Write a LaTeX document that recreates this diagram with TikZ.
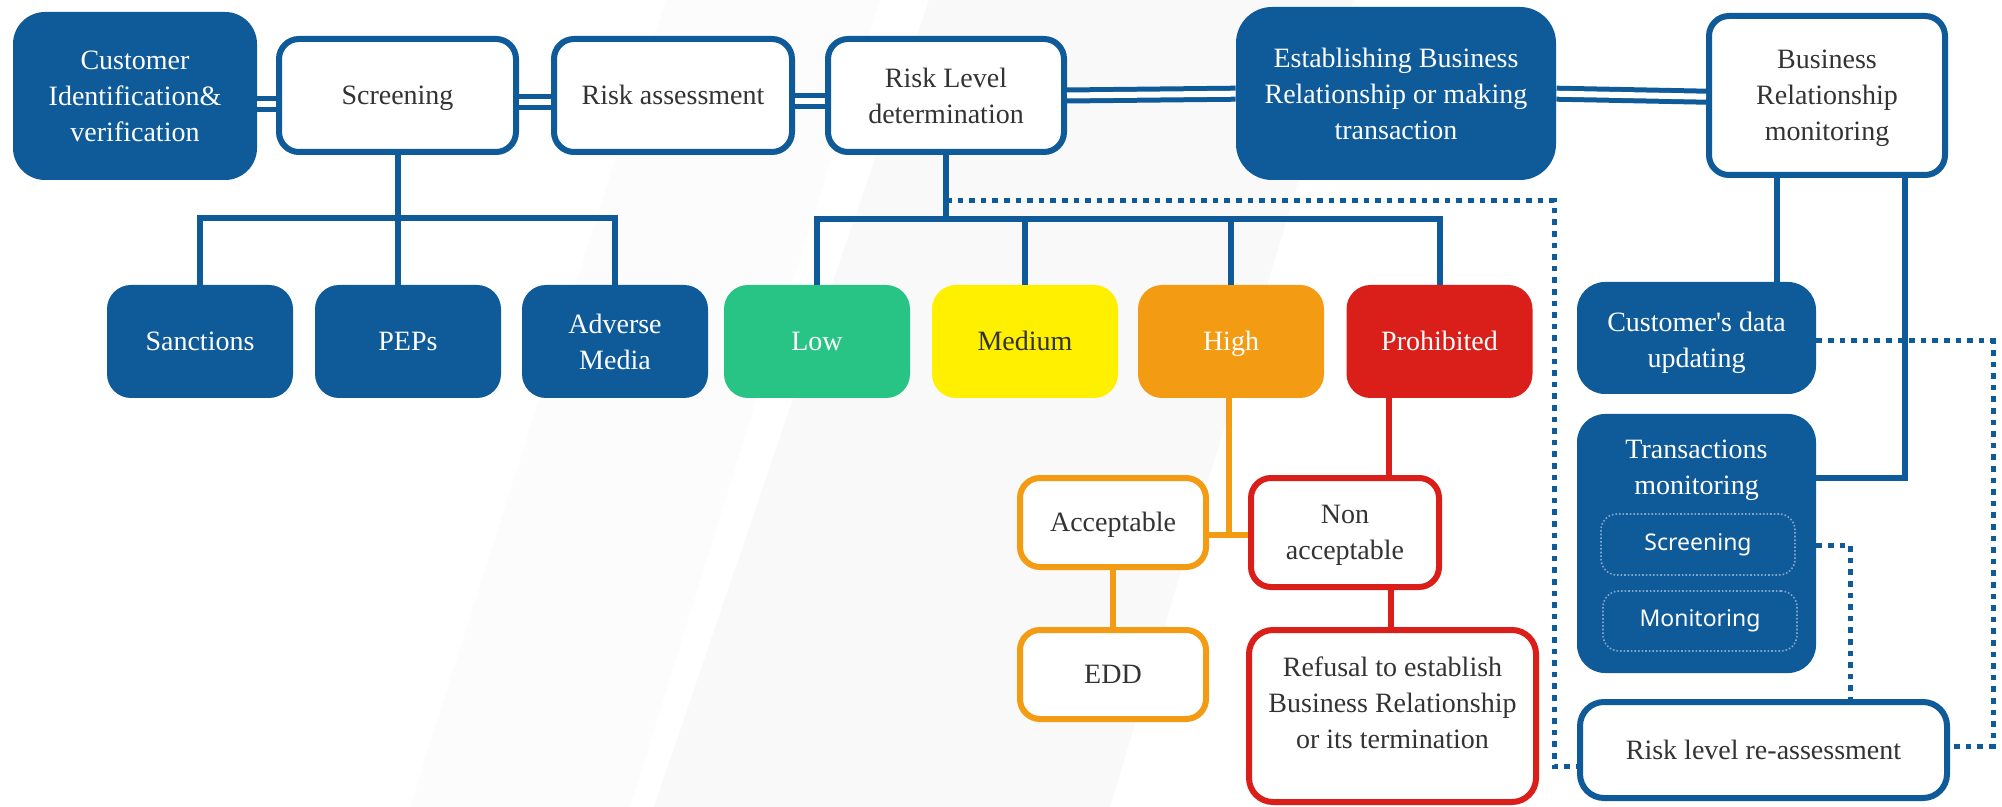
\documentclass[tikz,border=0pt]{standalone}
\usepackage{fontspec}
\setmainfont{Liberation Serif}
\newfontfamily\innersans{Noto Sans}
\newfontfamily\plainq[Ligatures=ResetAll]{Liberation Serif}
\definecolor{myblue}{HTML}{0F5A99}
\definecolor{mygreen}{HTML}{27C485}
\definecolor{myyellow}{HTML}{FFF000}
\definecolor{myorange}{HTML}{F39C13}
\definecolor{myred}{HTML}{DA1F1A}
\definecolor{txt}{HTML}{333333}
\definecolor{bgA}{HTML}{FCFCFC}
\definecolor{bgB}{HTML}{F9F9F9}
\definecolor{innerline}{HTML}{7FA6CC}
\newcommand{\shiftlines}[2]{\raisebox{#1}[\height][\depth]{\begin{tabular}{@{}c@{}}#2\end{tabular}}}
\begin{document}
\begin{tikzpicture}[x=0.5pt,y=-0.5pt,
  base/.style={inner sep=0pt, align=center, font=\fontsize{14}{18}\selectfont},
  one/.style={text height=10pt, text depth=0.7pt},
  bluefill/.style={base, fill=myblue, text=white, rounded corners=16pt},
  whitebox/.style={base, draw=myblue, line width=3pt, fill=white, text=txt, rounded corners=10pt},
  lvl/.style={base, one, rounded corners=12pt, minimum width=93pt, minimum height=56.5pt},
  obox/.style={base, draw=myorange, line width=3pt, fill=white, text=txt, rounded corners=10pt},
  rbox/.style={base, draw=myred, line width=3pt, fill=white, text=txt, rounded corners=10pt},
  innerbox/.style={inner sep=0pt, draw=innerline, densely dotted, line width=0.8pt, rounded corners=8pt,
     font=\innersans\fontsize{11.5}{14}\selectfont, text=white},
  conn/.style={draw=myblue, line width=3pt},
  oconn/.style={draw=myorange, line width=3pt},
  rconn/.style={draw=myred, line width=3pt},
  dbl/.style={draw=myblue, line width=2.5pt, double=white, double distance=3pt},
  dots/.style={draw=myblue, line width=2.5pt, dash pattern=on 2.8pt off 3pt}
]
\useasboundingbox (0,0) rectangle (2002,807);
\fill[white] (0,0) rectangle (2002,807);
% faint background bands
\fill[bgA] (410,807) -- (630,807) -- (880,0) -- (666,0) -- cycle;
\fill[bgB] (654,807) -- (1110,807) -- (1353,0) -- (929,0) -- cycle;

% top row
\node[bluefill, minimum width=122pt, minimum height=84pt] (cust) at (135,96) {Customer\\Identification\&\\verification};
\node[whitebox, one, minimum width=118.5pt, minimum height=56.5pt] (scr) at (397.5,95.5) {Screening};
\node[whitebox, one, minimum width=119pt, minimum height=56.5pt] (ra) at (673,95.5) {Risk assessment};
\node[whitebox, minimum width=118pt, minimum height=56.5pt] (rl) at (946,95.5) {Risk Level\\determination};
\node[bluefill, rounded corners=18pt, minimum width=160pt, minimum height=86.5pt] (est) at (1396,93.5) {Establishing Business\\Relationship or making\\transaction};
\node[whitebox, minimum width=118pt, minimum height=79.5pt] (brm) at (1827,95.5) {\shiftlines{-1pt}{Business\\Relationship\\monitoring}};

% second row
\node[lvl, fill=myblue, text=white] (sanc) at (200,341.5) {Sanctions};
\node[lvl, fill=myblue, text=white] (peps) at (408,341.5) {PEPs};
\node[base, rounded corners=12pt, minimum width=93pt, minimum height=56.5pt, fill=myblue, text=white] (am) at (615,341.5) {Adverse\\Media};
\node[lvl, fill=mygreen, text=white] (low) at (817,341.5) {Low};
\node[lvl, fill=myyellow, text=txt] (med) at (1025,341.5) {Medium};
\node[lvl, fill=myorange, text=white] (high) at (1231,341.5) {High};
\node[lvl, fill=myred, text=white] (proh) at (1439.5,341.5) {Prohibited};

% right column
\node[bluefill, rounded corners=14pt, minimum width=119.5pt, minimum height=56pt] (cdu) at (1696.5,338) {\shiftlines{-2pt}{Customer{\plainq\char"27}s data\\updating}};
\node[bluefill, rounded corners=14pt, minimum width=119.5pt, minimum height=129.5pt] (tm) at (1696.5,543.5) {};
\node[base, text=white] (tmtxt) at (1696.5,468.5) {\shiftlines{-0.5pt}{Transactions\\monitoring}};
\node[innerbox, minimum width=97pt, minimum height=30.5pt] (tmscr) at (1698,544.5) {Screening};
\node[innerbox, minimum width=97pt, minimum height=30pt] (tmmon) at (1700,621) {Monitoring};
\node[whitebox, rounded corners=12pt, minimum width=183.5pt, minimum height=48pt] (rra) at (1763.5,750) {Risk level re-assessment};

% lower middle
\node[obox, one, minimum width=93pt, minimum height=44.5pt] (acc) at (1113,522.5) {Acceptable};
\node[obox, one, minimum width=93pt, minimum height=44.5pt] (edd) at (1113,674.5) {EDD};
\node[rbox, minimum width=94pt, minimum height=54.5pt] (nonacc) at (1345,532.5) {\shiftlines{-1pt}{Non\\acceptable}};
\node[rbox, rounded corners=12pt, minimum width=143.5pt, minimum height=86pt] (ref) at (1392.5,716)
  {\shiftlines{5.5pt}{Refusal to establish\\Business Relationship\\or its termination}};

% double connectors along the top
\draw[dbl] (cust.east |- 0,104) -- (scr.west |- 0,104);
\draw[dbl] (scr.east |- 0,102) -- (ra.west |- 0,102);
\draw[dbl] (ra.east |- 0,101.5) -- (rl.west |- 0,101.5);
\draw[dbl] (rl.east |- 0,95.5) -- (est.west |- 0,93.7);
\draw[dbl] (est.east |- 0,93.7) -- (brm.west |- 0,96.7);

% dotted connectors
\coordinate (d1) at (1554,201);
\coordinate (d2) at (1554,766);
\draw[dots] (rl.south |- d1) -- (d1) -- (d2) -- (rra.west |- d2);
\coordinate (e1) at (1993,341);
\coordinate (e2) at (1993,746);
\draw[dots] (cdu.east |- e1) -- (e1) -- (e2) -- (rra.east |- e2);
\coordinate (f1) at (1850,545);
\draw[dots] (tm.east |- f1) -- (f1) -- (rra.north -| f1);

% screening tree
\draw[conn] (scr.south) -- (scr.south |- peps.north);
\draw[conn] (sanc.north) -- (sanc.north |- 0,218) -- (am.north |- 0,218) -- (am.north);

% risk level tree
\draw[conn] (rl.south) -- (rl.south |- 0,219.5);
\draw[conn] (low.north) -- (low.north |- 0,219.5) -- (proh.north |- 0,219.5) -- (proh.north);
\draw[conn] (med.north) -- (med.north |- 0,219.5);
\draw[conn] (high.north) -- (high.north |- 0,219.5);

% business relationship monitoring branches
\coordinate (g1) at (1905,478);
\draw[conn] (brm.south -| 1777,0) -- (cdu.north -| 1777,0);
\draw[conn] (brm.south -| g1) -- (g1) -- (tm.east |- g1);

% high / prohibited branches
\coordinate (h1) at (1229,535);
\draw[oconn] (high.south -| h1) -- (h1);
\draw[oconn] (acc.east |- h1) -- (nonacc.west |- h1);
\draw[oconn] (acc.south) -- (edd.north);
\draw[rconn] (proh.south -| 1389,0) -- (nonacc.north -| 1389,0);
\draw[rconn] (nonacc.south -| 1391,0) -- (ref.north -| 1391,0);
\end{tikzpicture}
\end{document}
